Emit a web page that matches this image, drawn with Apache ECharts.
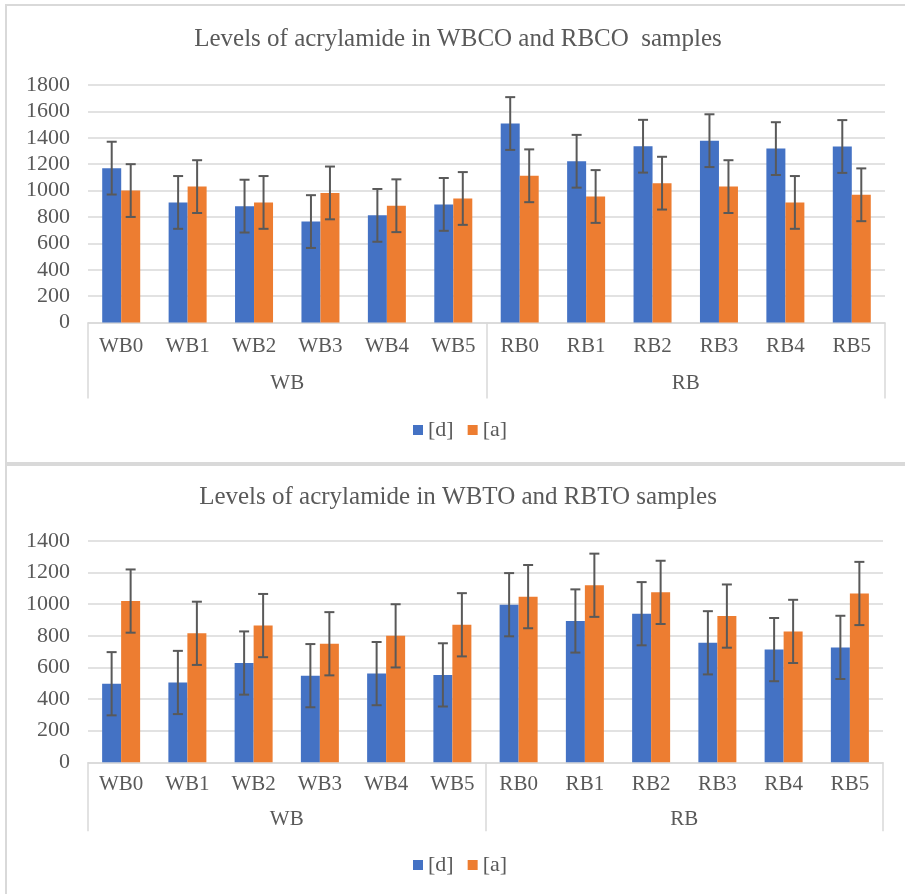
<!DOCTYPE html>
<html>
<head>
<meta charset="utf-8">
<script src="https://cdn.jsdelivr.net/npm/echarts@6/dist/echarts.min.js"></script>
<style>
html,body{margin:0;padding:0;background:#fff;}
#main{width:905px;height:894px;}
</style>
</head>
<body>
<div id="main"></div>
<script>
// ---------- data ----------
var categories = ['WB0','WB1','WB2','WB3','WB4','WB5','RB0','RB1','RB2','RB3','RB4','RB5'];
var groups = ['WB','RB'];
var seriesNames = ['[d]','[a]'];

var titleTop = 'Levels of acrylamide in WBCO and RBCO  samples';
var titleBottom = 'Levels of acrylamide in WBTO and RBTO samples';

// Top chart (WBCO / RBCO)
var topD = [1170, 910, 882, 765, 812, 895, 1508, 1222, 1336, 1378, 1318, 1334];
var topA = [1000, 1030, 910, 982, 885, 940, 1112, 955, 1056, 1030, 910, 968];
var topDErr = [200, 200, 200, 200, 200, 200, 200, 200, 200, 200, 200, 200];
var topAErr = [200, 200, 200, 200, 200, 200, 200, 200, 200, 200, 200, 200];

// Bottom chart (WBTO / RBTO)
var botD = [497, 505, 628, 548, 561, 553, 997, 894, 940, 756, 713, 727];
var botA = [1020, 816, 865, 750, 800, 870, 1048, 1120, 1075, 925, 828, 1068];
var botDErr = [200, 200, 200, 200, 200, 200, 200, 200, 200, 200, 200, 200];
var botAErr = [200, 200, 200, 200, 200, 200, 200, 200, 200, 200, 200, 200];

var topYTicks = {min: 0, max: 1800, interval: 200};
var botYTicks = {min: 0, max: 1400, interval: 200};

// ---------- styling ----------
var FONT = '"Liberation Serif", "Times New Roman", serif';
var TXT = '#595959';
var GRIDC = '#d9d9d9';
var BLUE = '#4472C4';
var ORANGE = '#ED7D31';
var BAR_W = 19;

function errData(vals, errs) {
  return vals.map(function (v, i) { return [i, v - errs[i], v + errs[i]]; });
}

function errRender(sign) {
  return function (params, api) {
    var xi = api.value(0);
    var hi = api.coord([xi, api.value(2)]);
    var lo = api.coord([xi, api.value(1)]);
    var x = hi[0] + sign * BAR_W / 2;
    var cap = 5;
    var st = {stroke: '#595959', lineWidth: 2};
    return {
      type: 'group',
      children: [
        {type: 'line', shape: {x1: x, y1: hi[1], x2: x, y2: lo[1]}, style: st},
        {type: 'line', shape: {x1: x - cap, y1: hi[1], x2: x + cap, y2: hi[1]}, style: st},
        {type: 'line', shape: {x1: x - cap, y1: lo[1], x2: x + cap, y2: lo[1]}, style: st}
      ]
    };
  };
}

function yAxis(gridIndex, t) {
  return {
    type: 'value', gridIndex: gridIndex, min: t.min, max: t.max, interval: t.interval,
    axisLine: {show: false}, axisTick: {show: false},
    axisLabel: {color: TXT, fontFamily: FONT, fontSize: 22, margin: 18,
                formatter: function (v) { return String(v); }},
    splitLine: {lineStyle: {color: GRIDC, width: 1.5}}
  };
}

function xAxisCat(gridIndex, margin) {
  return {
    type: 'category', gridIndex: gridIndex, data: categories, position: 'bottom', offset: 0,
    axisLine: {lineStyle: {color: GRIDC, width: 1.5}},
    axisTick: {show: false},
    axisLabel: {color: TXT, fontFamily: FONT, fontSize: 21, margin: margin, interval: 0},
    splitLine: {show: false}
  };
}

function xAxisGroup(gridIndex, tickLen, margin) {
  return {
    type: 'category', gridIndex: gridIndex, data: groups, position: 'bottom', offset: 0,
    axisLine: {show: false},
    axisTick: {show: true, length: tickLen, lineStyle: {color: GRIDC, width: 1.5}},
    axisLabel: {color: TXT, fontFamily: FONT, fontSize: 21, margin: margin},
    splitLine: {show: false}
  };
}

function barSeries(name, data, xi, yi, color) {
  return {
    name: name, type: 'bar', xAxisIndex: xi, yAxisIndex: yi, data: data,
    barWidth: BAR_W, barGap: '0%', itemStyle: {color: color}, z: 2
  };
}

function errSeries(name, vals, errs, xi, yi, sign) {
  return {
    name: name, type: 'custom', xAxisIndex: xi, yAxisIndex: yi,
    data: errData(vals, errs), renderItem: errRender(sign),
    encode: {x: 0, y: [1, 2]}, z: 5, silent: true
  };
}

var option = {
  backgroundColor: '#ffffff',
  animation: false,
  graphic: [
    {type: 'rect', shape: {x: 6, y: 5, width: 910, height: 458}, style: {fill: 'none', stroke: '#d9d9d9', lineWidth: 2}, z: -10},
    {type: 'rect', shape: {x: 6, y: 465, width: 910, height: 440}, style: {fill: 'none', stroke: '#d9d9d9', lineWidth: 2}, z: -10}
  ],
  title: [
    {text: titleTop, left: 458, textAlign: 'center', top: 27, padding: 0,
     textStyle: {color: TXT, fontFamily: FONT, fontSize: 25, fontWeight: 'normal'}},
    {text: titleBottom, left: 458, textAlign: 'center', top: 485, padding: 0,
     textStyle: {color: TXT, fontFamily: FONT, fontSize: 25, fontWeight: 'normal'}}
  ],
  legend: [
    {data: seriesNames, left: 413, top: 419, padding: 0, itemWidth: 10, itemHeight: 10, itemGap: 14,
     icon: 'rect', textStyle: {color: TXT, fontFamily: FONT, fontSize: 22}},
    {data: seriesNames, left: 413, top: 854, padding: 0, itemWidth: 10, itemHeight: 10, itemGap: 14,
     icon: 'rect', textStyle: {color: TXT, fontFamily: FONT, fontSize: 22}}
  ],
  grid: [
    {left: 88, right: 20, top: 85, height: 237.5},
    {left: 88, right: 22, top: 541, height: 221.3}
  ],
  xAxis: [
    xAxisCat(0, 13),
    xAxisGroup(0, 76, 50),
    xAxisCat(1, 12),
    xAxisGroup(1, 69, 47)
  ],
  yAxis: [
    yAxis(0, topYTicks),
    yAxis(1, botYTicks)
  ],
  series: [
    barSeries(seriesNames[0], topD, 0, 0, BLUE),
    barSeries(seriesNames[1], topA, 0, 0, ORANGE),
    errSeries('errTopD', topD, topDErr, 0, 0, -1),
    errSeries('errTopA', topA, topAErr, 0, 0, 1),
    barSeries(seriesNames[0], botD, 2, 1, BLUE),
    barSeries(seriesNames[1], botA, 2, 1, ORANGE),
    errSeries('errBotD', botD, botDErr, 2, 1, -1),
    errSeries('errBotA', botA, botAErr, 2, 1, 1)
  ]
};

var chart = echarts.init(document.getElementById('main'), null, {renderer: 'canvas'});
chart.setOption(option);
</script>
</body>
</html>
